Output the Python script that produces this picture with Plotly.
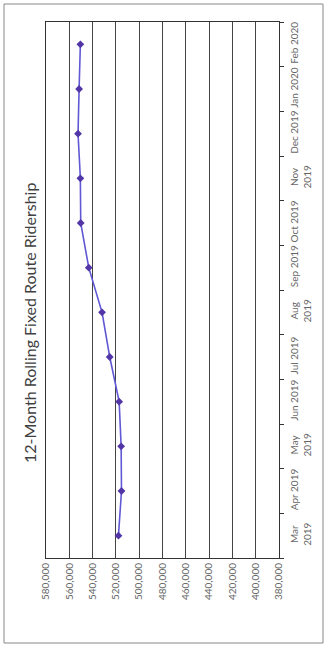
import plotly.graph_objects as go

# Month labels (two-line ones wrap like the axis shows them)
months = ["Mar<br>2019", "Apr 2019", "May<br>2019", "Jun 2019", "Jul 2019", "Aug<br>2019",
          "Sep 2019", "Oct 2019", "Nov<br>2019", "Dec 2019", "Jan 2020", "Feb 2020"]
# 12-month rolling fixed route ridership
ridership = [517800, 515200, 515500, 517200, 525300, 531900,
             543300, 550200, 550500, 552500, 551600, 550500]
value_ticks = [580000, 560000, 540000, 520000, 500000, 480000,
               460000, 440000, 420000, 400000, 380000]
value_labels = [f"{v:,}" for v in value_ticks]

W, H = 327, 649
L, R, T, B = 46, 48, 22, 91
pw, ph = W - L - R, H - T - B

def px_x(x):
    return (x - L) / pw

def px_y(y):
    return 1 - (y - T) / ph

fig = go.Figure()
fig.add_trace(go.Scatter(
    x=ridership, y=months, mode="lines+markers",
    line=dict(color="#6058d4", width=1.6),
    marker=dict(symbol="diamond", size=6, color="#5236a8"),
    showlegend=False,
))

fig.update_xaxes(
    range=[580000, 380000], tickvals=value_ticks, ticktext=value_labels,
    tickangle=-90, showgrid=True, gridcolor="#444", gridwidth=1,
    showline=True, linecolor="#333", linewidth=1, mirror=True,
    zeroline=False, ticks="", tickfont=dict(family="Lato", size=10, color="#666"),
)
fig.update_yaxes(
    type="category", categoryorder="array", categoryarray=months,
    range=[-0.5, 11.5], side="right", tickangle=-90, tickson="boundaries",
    ticks="outside", ticklen=4, tickcolor="#333", showgrid=False,
    showline=True, linecolor="#333", linewidth=1, mirror=True,
    ticklabelstandoff=6,
    tickfont=dict(family="Lato", size=10, color="#666"),
)

fig.add_annotation(
    text="12-Month Rolling Fixed Route Ridership", textangle=-90,
    xref="paper", yref="paper", x=px_x(29), y=px_y(323),
    xanchor="center", yanchor="middle",
    showarrow=False, font=dict(family="Lato", size=16, color="#404040"),
)

# Chart border
fig.add_shape(
    type="rect", xref="paper", yref="paper",
    x0=px_x(4), x1=px_x(323), y0=px_y(4), y1=px_y(643),
    line=dict(color="#888", width=1), fillcolor="rgba(0,0,0,0)",
)

fig.update_layout(
    width=W, height=H, margin=dict(l=L, r=R, t=T, b=B),
    paper_bgcolor="white", plot_bgcolor="white",
)

fig.write_html("out.html")
